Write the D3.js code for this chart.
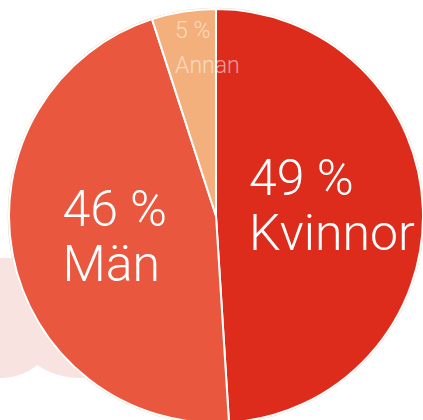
<!DOCTYPE html>
<html>
<head>
<meta charset="utf-8">
<script src="https://cdn.jsdelivr.net/npm/d3@7"></script>
<style>
  html, body { margin: 0; padding: 0; background: #ffffff; }
  svg { display: block; }
  .pieLabel { font-family: "Roboto", "Liberation Sans", sans-serif; font-weight: 300; fill: #ffffff; }
</style>
</head>
<body>
<svg id="chart"></svg>
<script>
// ~~~~~~~~~ DATA ~~~~~~~~~
var categories = ["Kvinnor", "Män", "Annan"];
var percents   = [49, 46, 5];
var colors     = ["#dd2b1c", "#e9573f", "#f3b07c"];

var width = 423, height = 420;
var cx = 216, cy = 216;          // centre of the pie
var radius = 207;

var svg = d3.select("#chart").attr("width", width).attr("height", height);

// pale pink "cloud" behind the pie, bottom left
var deco = svg.append("g").attr("fill", "#f8e3e1");
deco.append("circle").attr("cx", 0).attr("cy", 318).attr("r", 60);
deco.append("circle").attr("cx", 80).attr("cy", 300).attr("r", 78);
deco.append("rect").attr("x", 0).attr("y", 258).attr("width", 40).attr("height", 60);

var g = svg.append("g").attr("transform", "translate(" + cx + "," + cy + ")");

var values = categories.map(function(c, i){
    return {category: c, percent: percents[i], color: colors[i]};
});

var pie = d3.pie()
    .sort(null)
    .value(function(d){ return d.percent; })(values);

var arc = d3.arc().innerRadius(0).outerRadius(radius);

// thin beige rim round the whole pie
g.append("circle").attr("r", radius + 0.6)
    .attr("fill", "none").attr("stroke", "#e4d9c8").attr("stroke-width", 1.4);

g.selectAll("path.slice")
    .data(pie)
    .enter()
    .append("path")
    .attr("class", "slice")
    .attr("d", arc)
    .attr("fill", function(d){ return d.data.color; })
    .attr("stroke", "#ffffff")
    .attr("stroke-width", 2)
    .attr("stroke-linejoin", "round");

// ~~~~~~~~~ LABELS ~~~~~~~~~
// label settings per slice: distance from centre, nudge, font size, line gap, opacity
var labelRadius = [116, 100, 170];
var labelNudge  = [[0, -8], [-3, 1], [18, -1]];
var labelSize   = [50, 50, 23];
var labelGap    = [55, 55, 35];
var labelAlpha  = [1, 1, 0.55];

function midAngle(d){ return d.startAngle + (d.endAngle - d.startAngle) / 2; }

pie.forEach(function(d, i){
    var a = midAngle(d);
    var px = labelRadius[i] * Math.sin(a) + labelNudge[i][0];
    var py = -labelRadius[i] * Math.cos(a) + labelNudge[i][1];
    var fs = labelSize[i], gap = labelGap[i];
    var capH = fs * 0.71;

    var lines = [d.data.percent + " %", d.data.category];

    // one text per line, left aligned, block centred on the label point
    var t = g.selectAll("text.lbl" + i).data(lines).enter().append("text")
        .attr("class", "pieLabel lbl" + i)
        .style("font-size", fs + "px")
        .attr("fill-opacity", labelAlpha[i])
        .text(function(s){ return s; });

    var maxW = 0;
    t.each(function(){ maxW = Math.max(maxW, this.getComputedTextLength()); });
    var y1 = py - gap / 2 + capH / 2;
    t.attr("x", px - maxW / 2)
     .attr("y", function(s, j){ return y1 + j * gap; });
});
</script>
</body>
</html>
